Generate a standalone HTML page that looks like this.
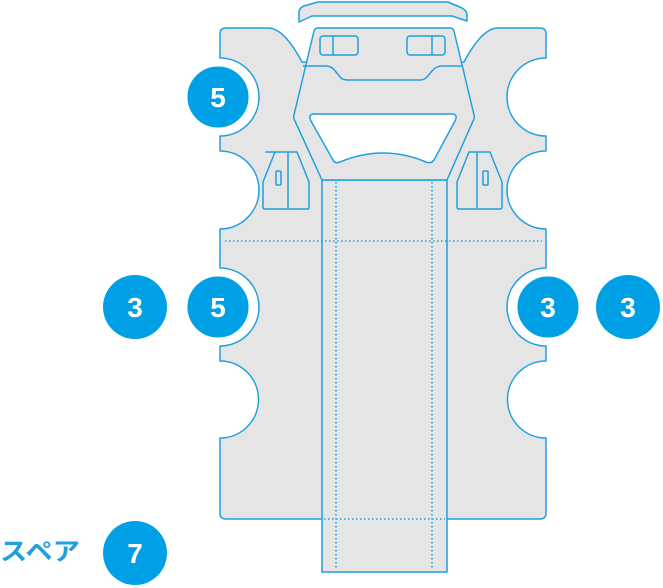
<!DOCTYPE html>
<html><head><meta charset="utf-8"><style>
html,body{margin:0;padding:0;background:#fff;}
svg{display:block;}
text{font-family:"Liberation Sans","Noto Sans CJK JP",sans-serif;font-weight:bold;}
</style></head><body>
<svg width="663" height="588" viewBox="0 0 663 588" xmlns="http://www.w3.org/2000/svg">
<g stroke="#1ea0e0" stroke-width="1.5" fill="#e5e5e5" stroke-linejoin="round">
<path d="M299,12 Q299,8 304,6 L318,2 L448,2 L462,8 Q467,11 467,15 L467,21 L452,16 L312,16 L299,22 Z"/>
<path d="M226,28 L268,28 Q284,28 302,62 L464,62 Q482,28 498,28 L540,28 Q546,28 546,34 L546,58 A37,37 0 0 0 546,136 L546,151 A37,37 0 0 0 546,229 L546,268 A37,37 0 0 0 546,346 L546,361 A38,38 0 0 0 546,438 L546,513 Q546,519 540,519 L226,519 Q220,519 220,513 L220,438 A38,38 0 0 0 220,361 L220,346 A37,37 0 0 0 220,268 L220,229 A37,37 0 0 0 220,151 L220,136 A37,37 0 0 0 220,58 L220,34 Q220,28 226,28 Z"/>
<rect x="322" y="180" width="125" height="392"/>
<path d="M318,28 L450,28 Q453,28 454,31 L474,115 Q475,118 473,121 L447,180 L322,180 L295,121 Q293,118 294,115 L314,31 Q315,28 318,28 Z"/>
<path d="M303,66 L326,66 Q332,66 336,72 L341,78 Q343,80 348,80 L420,80 Q424,80 427,77 L432,71 Q436,66 442,66 L463,66" fill="none"/>
<rect x="320" y="36" width="38" height="19" rx="3"/>
<line x1="333" y1="36" x2="333" y2="55"/>
<rect x="407" y="36" width="38" height="19" rx="3"/>
<line x1="432" y1="36" x2="432" y2="55"/>
<path d="M313,114 L453,114 Q458,115 455,121 L434,160 Q431,164 426,162 Q383,144 340,162 Q335,164 333,160 L311,121 Q308,115 313,114 Z" fill="#fff"/>
<path d="M266,152 L297,152 L309,182 L309,207 Q309,209 307,209 L265,209 Q263,209 263,207 L263,182 L275,152 Z"/>
<line x1="288" y1="152" x2="288" y2="209"/>
<rect x="276" y="171" width="5" height="14" rx="1"/>
<path d="M469,152 L490,152 L502,182 L502,207 Q502,209 500,209 L459,209 Q457,209 457,207 L457,182 L469,152 Z"/>
<line x1="477" y1="152" x2="477" y2="209"/>
<rect x="483" y="171" width="5" height="14" rx="1"/>
</g>
<g stroke="#1ea0e0" stroke-width="1.5" stroke-dasharray="1.5,2.5" fill="none">
<line x1="225" y1="241" x2="542" y2="241"/>
<line x1="336" y1="182" x2="336" y2="570"/>
<line x1="432" y1="182" x2="432" y2="570"/>
<line x1="324" y1="519" x2="445" y2="519"/>
</g>
<g fill="#00a0e6">
<circle cx="218" cy="97" r="32" stroke="#fff" stroke-width="3"/>
<circle cx="135" cy="307" r="32"/>
<circle cx="218" cy="307" r="32" stroke="#fff" stroke-width="3"/>
<circle cx="548" cy="307" r="32" stroke="#fff" stroke-width="3"/>
<circle cx="628" cy="307" r="32"/>
<circle cx="135" cy="553" r="32"/>
</g>
<g fill="#fff" font-size="28" text-anchor="middle">
<text x="218" y="107">5</text>
<text x="135" y="317">3</text>
<text x="218" y="317">5</text>
<text x="548" y="317">3</text>
<text x="628" y="317">3</text>
<text x="135" y="563">7</text>
</g>
<text x="0" y="560" font-size="25" fill="#1ea0e0" textLength="80" lengthAdjust="spacingAndGlyphs">スペア</text>
</svg>
</body></html>
